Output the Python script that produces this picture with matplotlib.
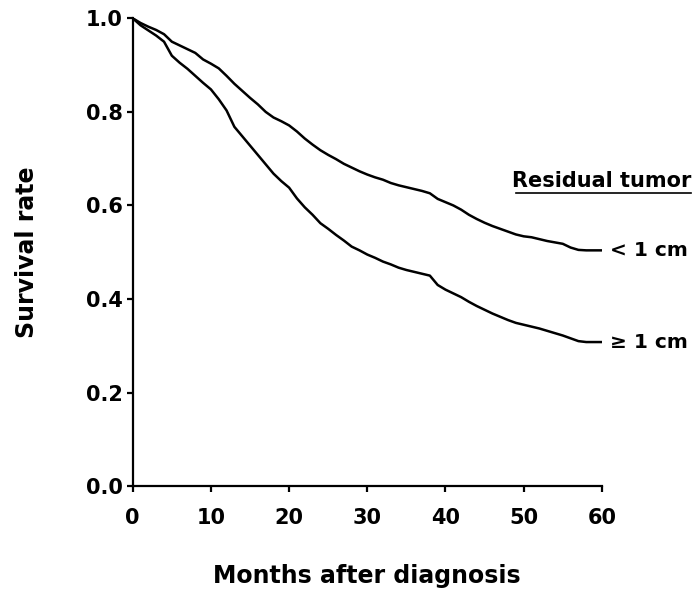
import matplotlib
matplotlib.use("Agg")
import matplotlib.pyplot as plt
from matplotlib.lines import Line2D

plt.rcParams['font.family'] = ['DejaVu Sans']
plt.rcParams['font.weight'] = 'bold'

# months after diagnosis
months = list(range(0, 61))

# residual tumor < 1 cm
surv_small = [1.000, 0.990, 0.982, 0.975, 0.966, 0.950, 0.942, 0.934, 0.926, 0.912,
              0.903, 0.893, 0.877, 0.860, 0.845, 0.830, 0.816, 0.800, 0.788, 0.780,
              0.771, 0.758, 0.743, 0.730, 0.718, 0.708, 0.699, 0.689, 0.681, 0.673,
              0.666, 0.660, 0.655, 0.648, 0.643, 0.639, 0.635, 0.631, 0.626, 0.614,
              0.607, 0.600, 0.591, 0.580, 0.571, 0.563, 0.556, 0.550, 0.544, 0.538,
              0.534, 0.532, 0.528, 0.524, 0.521, 0.518, 0.510, 0.505, 0.504, 0.504,
              0.504]

# residual tumor >= 1 cm
surv_large = [1.000, 0.985, 0.974, 0.963, 0.950, 0.920, 0.905, 0.892, 0.877, 0.862,
              0.848, 0.827, 0.803, 0.768, 0.748, 0.728, 0.708, 0.688, 0.668, 0.652,
              0.638, 0.615, 0.596, 0.580, 0.562, 0.550, 0.537, 0.525, 0.512, 0.504,
              0.495, 0.488, 0.480, 0.474, 0.467, 0.462, 0.458, 0.454, 0.450, 0.430,
              0.420, 0.412, 0.404, 0.394, 0.385, 0.377, 0.369, 0.362, 0.355, 0.349,
              0.345, 0.341, 0.337, 0.332, 0.327, 0.322, 0.316, 0.310, 0.308, 0.308,
              0.308]

x_ticks = [0, 10, 20, 30, 40, 50, 60]
y_ticks = [0.0, 0.2, 0.4, 0.6, 0.8, 1.0]

fig = plt.figure(figsize=(6.95, 5.9), dpi=100)
ax = fig.add_axes([0.191, 0.176, 0.675, 0.793])

ax.plot(months, surv_small, color='black', lw=1.8)
ax.plot(months, surv_large, color='black', lw=1.8)

ax.set_xlim(0, 60)
ax.set_ylim(0, 1.0)
ax.set_xticks(x_ticks)
ax.set_yticks(y_ticks)
ax.set_yticklabels(['%.1f' % v for v in y_ticks])
for s in ['top', 'right']:
    ax.spines[s].set_visible(False)
for s in ['left', 'bottom']:
    ax.spines[s].set_linewidth(1.6)
ax.tick_params(direction='out', length=4, width=1.6, labelsize=15)
ax.tick_params(axis='y', pad=3)
ax.tick_params(axis='x', pad=12)
for lab in ax.get_xticklabels() + ax.get_yticklabels():
    lab.set_fontweight('bold')

ax.set_xlabel('Months after diagnosis', fontsize=17, fontweight='bold', labelpad=26)
ax.set_ylabel('Survival rate', fontsize=17, fontweight='bold', labelpad=34)

ax.text(61, surv_small[-1], '< 1 cm', fontsize=14.5, fontweight='bold',
        va='center', ha='left', clip_on=False)
ax.text(61, surv_large[-1], '\u2265 1 cm', fontsize=14.5, fontweight='bold',
        va='center', ha='left', clip_on=False)
ax.text(71.5, 0.652, 'Residual tumor', fontsize=15, fontweight='bold',
        va='center', ha='right', clip_on=False)
fig.add_artist(Line2D([516 / 695, 691 / 695], [1 - 193 / 590, 1 - 193 / 590],
                      color='black', lw=1.2))

fig.savefig('out.png', dpi=100)
